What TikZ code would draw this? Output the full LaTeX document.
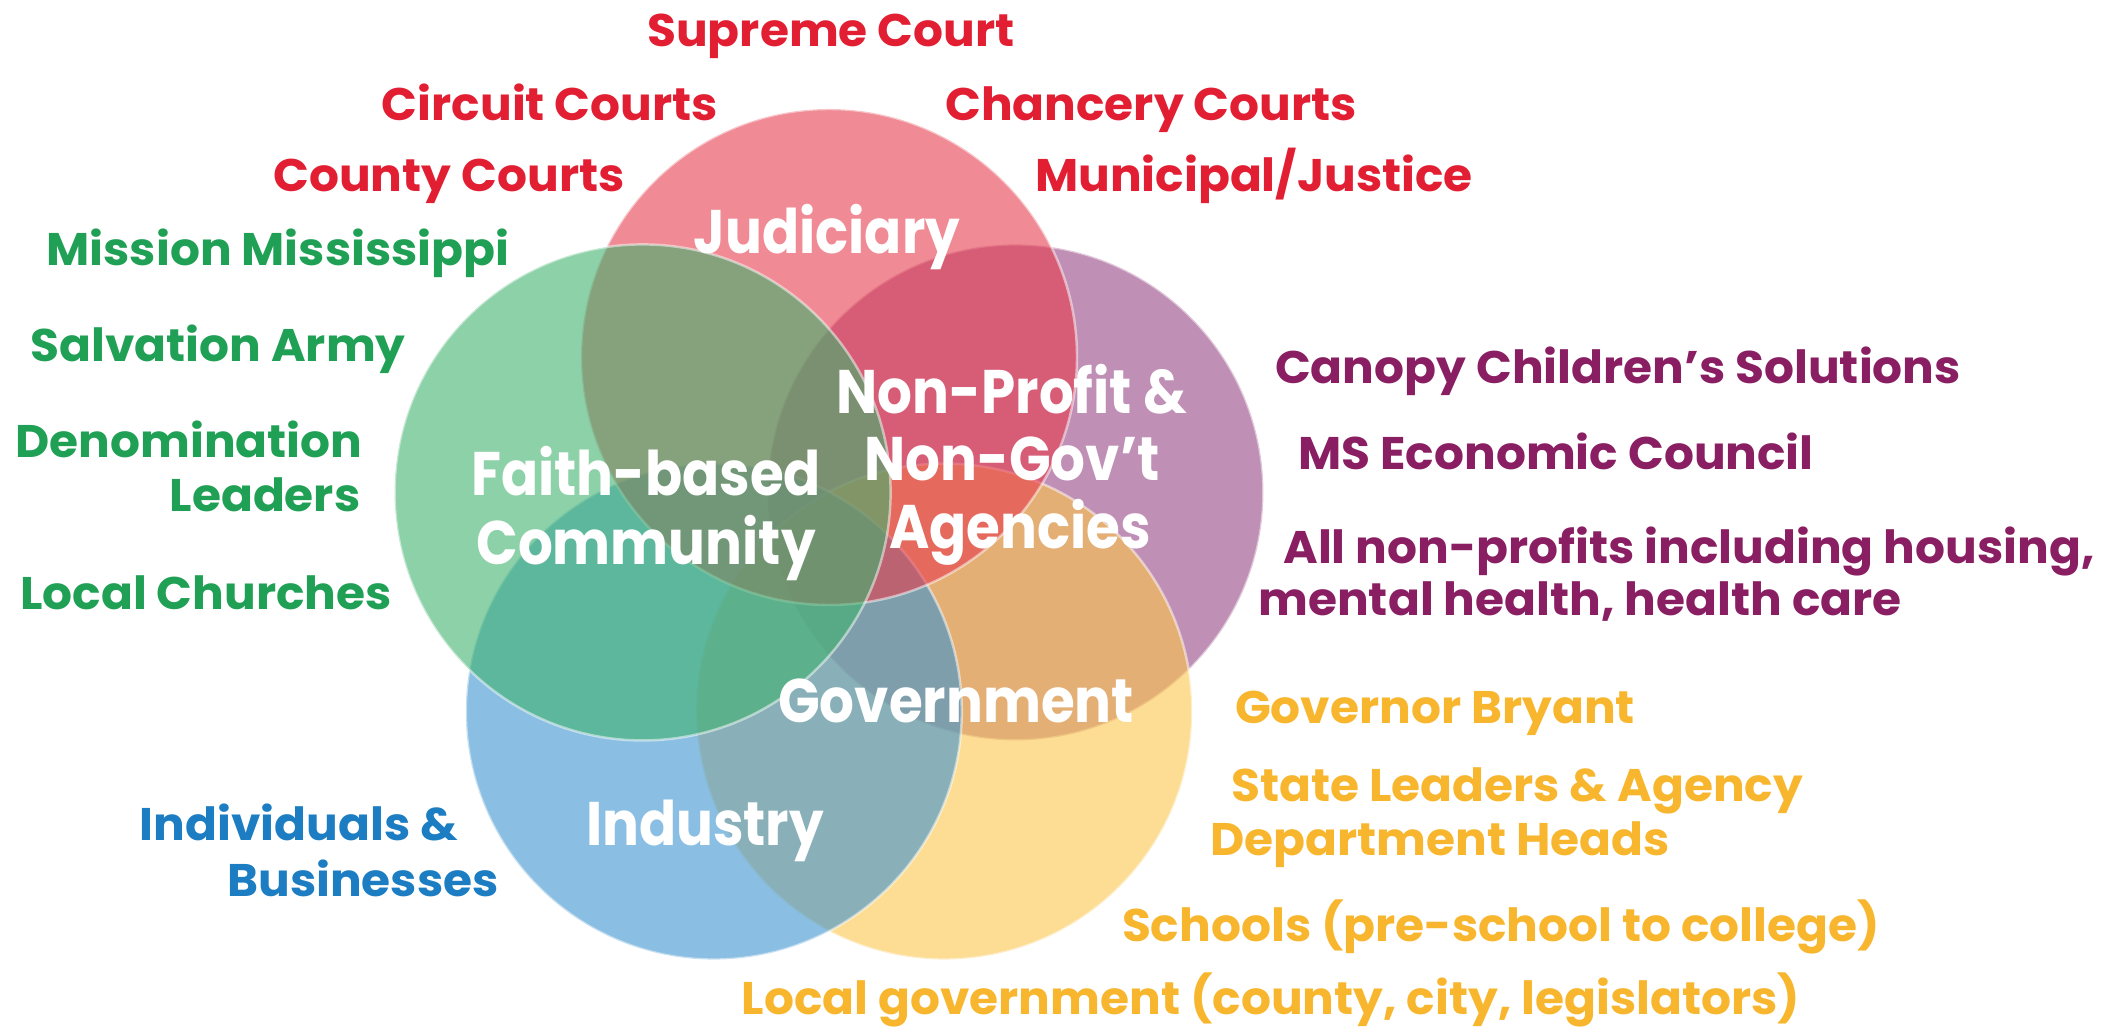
\documentclass[tikz,border=0pt]{standalone}
\usepackage{fontspec}
\setmainfont{Poppins}
\newfontfamily\memberfont{Poppins}[FakeStretch=1.03]
\newfontfamily\sectorfont{Poppins}[FakeStretch=0.89]
\usepackage{tikz}
\definecolor{judiciary}{RGB}{230,60,77}
\definecolor{faith}{RGB}{63,178,110}
\definecolor{nonprofit}{RGB}{150,68,132}
\definecolor{industry}{RGB}{60,148,208}
\definecolor{government}{RGB}{252,197,75}
\definecolor{judiciarytext}{RGB}{226,30,50}
\definecolor{faithtext}{RGB}{32,160,85}
\definecolor{nonprofittext}{RGB}{138,30,98}
\definecolor{industrytext}{RGB}{28,125,194}
\definecolor{governmenttext}{RGB}{247,182,46}
\tikzset{%
    bubble/.style={fill opacity=0.6, draw=white, draw opacity=0.5, line width=0.7pt},
    member/.style={font=\memberfont\bfseries\fontsize{13}{15}\selectfont, inner sep=0pt, anchor=base},
    sector/.style={font=\sectorfont\bfseries\fontsize{17.5}{20}\selectfont, text=white, inner sep=0pt, anchor=base}
}

\begin{document}
\begin{tikzpicture}
      \useasboundingbox (0,0) rectangle (21.17,10.31);

      \begin{scope}[shift={(8.29,4.78)}]
        \filldraw[bubble,fill=nonprofit] (18:1.96) circle[radius=2.48];
        \filldraw[bubble,fill=government] (306:1.96) circle[radius=2.48];
        \filldraw[bubble,fill=industry] (234:1.96) circle[radius=2.48];
        \filldraw[bubble,fill=judiciary] (90:1.96) circle[radius=2.48];
        \filldraw[bubble,fill=faith] (162:1.96) circle[radius=2.48];
      \end{scope}

      \node[sector] (judiciaryname) at (8.27,7.77) {Judiciary};
      \node[sector] (nonprofitname) at (10.12,6.17) {Non-Profit \&};
      \node[sector] (nongovname) at (10.12,5.50) {Non-Gov’t};
      \node[sector] (agenciesname) at (10.20,4.82) {Agencies};
      \node[sector] (faithname) at (6.46,5.35) {Faith-based};
      \node[sector] (communityname) at (6.46,4.66) {Community};
      \node[sector] (governmentname) at (9.56,3.08) {Government};
      \node[sector] (industryname) at (7.05,1.85) {Industry};

      \node[member,text=judiciarytext] (supreme) at (8.31,9.84) {Supreme Court};
      \node[member,text=judiciarytext] (circuit) at (5.50,9.10) {Circuit Courts};
      \node[member,text=judiciarytext] (chancery) at (11.51,9.10) {Chancery Courts};
      \node[member,text=judiciarytext] (county) at (4.49,8.39) {County Courts};
      \node[member,text=judiciarytext] (municipal) at (12.54,8.39) {Municipal/Justice};

      \node[member,text=faithtext] (mission) at (2.78,7.65) {Mission Mississippi};
      \node[member,text=faithtext] (salvation) at (2.18,6.69) {Salvation Army};
      \node[member,text=faithtext] (denomination) at (1.89,5.73) {Denomination};
      \node[member,text=faithtext] (leaders) at (2.65,5.19) {Leaders};
      \node[member,text=faithtext] (churches) at (2.06,4.21) {Local Churches};

      \node[member,text=nonprofittext] (canopy) at (16.18,6.47) {Canopy Children’s Solutions};
      \node[member,text=nonprofittext] (economic) at (15.56,5.61) {MS Economic Council};
      \node[member,text=nonprofittext] (allnonprofits) at (16.89,4.67) {All non-profits including housing,};
      \node[member,text=nonprofittext] (health) at (15.80,4.15) {mental health, health care};

      \node[member,text=governmenttext] (governor) at (14.35,3.07) {Governor Bryant};
      \node[member,text=governmenttext] (stateleaders) at (15.17,2.29) {State Leaders \& Agency};
      \node[member,text=governmenttext] (departments) at (14.40,1.75) {Department Heads};
      \node[member,text=governmenttext] (schools) at (15.01,0.89) {Schools (pre-school to college)};
      \node[member,text=governmenttext] (localgov) at (12.71,0.17) {Local government (county, city, legislators)};

      \node[member,text=industrytext] (individuals) at (2.99,1.90) {Individuals \&};
      \node[member,text=industrytext] (businesses) at (3.63,1.34) {Businesses};
\end{tikzpicture}
\end{document}
